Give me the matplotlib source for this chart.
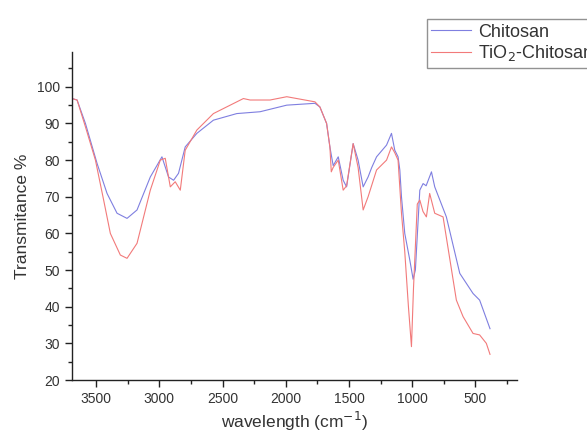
import numpy as np
import matplotlib
matplotlib.use("Agg")
import matplotlib.pyplot as plt
from matplotlib.ticker import MultipleLocator

plt.rcParams['font.family'] = ['Liberation Sans', 'DejaVu Sans']

# FTIR spectra (wavenumber cm^-1, transmittance %)
chitosan_w = [3690, 3650, 3584, 3492, 3413, 3334, 3255, 3176, 3071, 2979, 2927, 2887,
              2848, 2795, 2703, 2572, 2387, 2203, 1992, 1769, 1730, 1677, 1651, 1625,
              1585, 1546, 1519, 1467, 1428, 1388, 1349, 1320, 1282, 1203, 1164, 1138,
              1112, 1098, 1085, 1059, 1019, 993, 975, 940, 914, 890, 848, 822, 730,
              624, 519, 467, 385]
chitosan_t = [96.8, 96.4, 90.0, 79.1, 70.9, 65.5, 64.1, 66.4, 75.4, 80.9, 75.4, 74.5,
              76.4, 83.6, 87.3, 90.9, 92.7, 93.2, 95.0, 95.5, 94.5, 90.0, 83.6, 78.5,
              80.9, 74.5, 72.7, 84.5, 80.0, 72.7, 75.4, 78.0, 80.9, 84.1, 87.3, 82.7,
              80.9, 77.3, 70.0, 60.0, 52.7, 47.5, 50.0, 71.8, 73.6, 73.0, 76.8, 72.7, 64.5,
              49.1, 43.6, 41.8, 34.0]

tio2_w = [3690, 3650, 3584, 3505, 3440, 3387, 3308, 3255, 3176, 3071, 2992, 2953,
          2913, 2874, 2834, 2795, 2703, 2572, 2335, 2282, 2124, 1992, 1769, 1730,
          1677, 1651, 1640, 1625, 1585, 1546, 1519, 1467, 1428, 1388, 1349, 1282,
          1203, 1164, 1138, 1112, 1085, 1059, 1030, 1006, 990, 960, 940, 915, 888,
          862, 822, 756, 651, 598, 519, 467, 414, 385]
tio2_t = [96.8, 96.4, 89.1, 80.0, 69.1, 60.0, 54.1, 53.2, 57.3, 71.8, 80.0, 80.5,
          72.7, 74.1, 71.8, 82.7, 88.2, 92.7, 96.8, 96.4, 96.4, 97.3, 95.9, 94.5,
          90.0, 83.6, 76.8, 78.0, 80.0, 71.8, 73.0, 84.5, 78.0, 66.4, 70.0, 77.3,
          80.0, 83.6, 82.0, 80.0, 65.5, 55.0, 40.0, 29.1, 45.0, 68.0, 69.1, 66.0, 64.5,
          70.9, 65.5, 64.5, 41.8, 37.3, 32.7, 32.3, 30.0, 27.0]

fig = plt.figure(figsize=(5.87, 4.33), dpi=100)
ax = fig.add_axes([0.1227, 0.1224, 0.7573, 0.7575])

l1, = ax.plot(chitosan_w, chitosan_t, color="#7f7fe0", lw=0.8, label="Chitosan")
l2, = ax.plot(tio2_w, tio2_t, color="#f27a7a", lw=0.8, label="TiO$_2$-Chitosan")

ax.set_xlim(3690, 175)
ax.set_ylim(20, 109.5)
ax.xaxis.set_minor_locator(MultipleLocator(250))
ax.yaxis.set_minor_locator(MultipleLocator(5))
ax.set_xticks([3500, 3000, 2500, 2000, 1500, 1000, 500])
ax.set_yticks([20, 30, 40, 50, 60, 70, 80, 90, 100])

for s in ["top", "right"]:
    ax.spines[s].set_visible(False)
for s in ["left", "bottom"]:
    ax.spines[s].set_linewidth(1.0)
    ax.spines[s].set_color("#222222")

ax.tick_params(which="major", direction="out", length=5, width=1.0, color="#222222",
               labelsize=10, labelcolor="#333333")
ax.tick_params(which="minor", direction="out", length=3, width=1.0, color="#222222")

ax.set_xlabel("wavelength (cm$^{-1}$)", fontsize=12.5, color="#333333", labelpad=3)
ax.set_ylabel("Transmitance %", fontsize=12.5, color="#333333", labelpad=5)

leg = fig.legend(handles=[l1, l2], loc="upper left", bbox_to_anchor=(0.7274, 0.956),
                 fontsize=13, frameon=True, fancybox=False, borderpad=0.25,
                 handlelength=2.2, handletextpad=0.4, labelspacing=0.15,
                 borderaxespad=0)
leg.get_frame().set_edgecolor("#777777")
leg.get_frame().set_linewidth(1.0)
for t in leg.get_texts():
    t.set_color("#333333")

fig.savefig("out.png", dpi=100)
